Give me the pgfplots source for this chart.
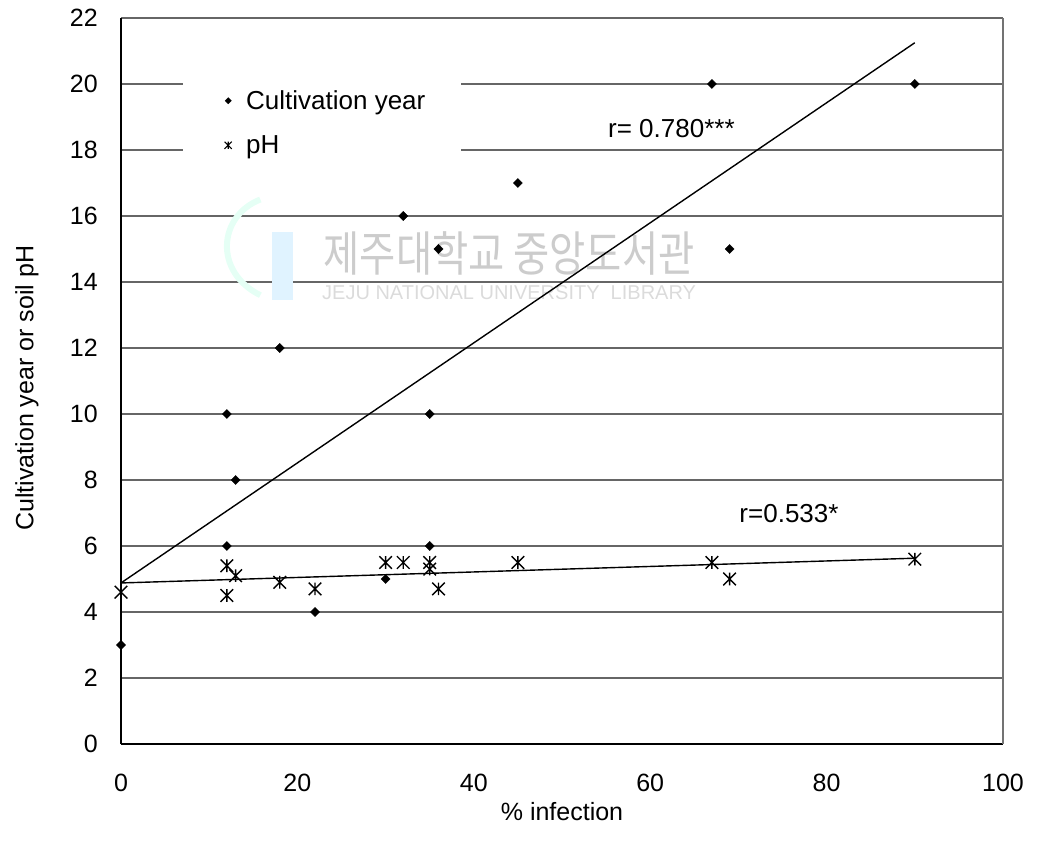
\documentclass[border=0pt]{standalone}
\usepackage{pgfplots}
\pgfplotsset{compat=1.18}
\usepackage{fontspec}
\setmainfont{Liberation Sans}
\newfontfamily\krfont{Noto Sans CJK KR}

\pgfdeclareplotmark{xstar}{%
  \pgfpathmoveto{\pgfqpoint{-\pgfplotmarksize}{-\pgfplotmarksize}}%
  \pgfpathlineto{\pgfqpoint{\pgfplotmarksize}{\pgfplotmarksize}}%
  \pgfpathmoveto{\pgfqpoint{-\pgfplotmarksize}{\pgfplotmarksize}}%
  \pgfpathlineto{\pgfqpoint{\pgfplotmarksize}{-\pgfplotmarksize}}%
  \pgfpathmoveto{\pgfqpoint{0pt}{-\pgfplotmarksize}}%
  \pgfpathlineto{\pgfqpoint{0pt}{\pgfplotmarksize}}%
  \pgfusepathqstroke}

\begin{document}
\begin{tikzpicture}
\path[use as bounding box] (0,0) rectangle (1037bp,850bp);
\begin{axis}[
  at={(121bp,106bp)}, anchor=south west,
  scale only axis, width=882bp, height=726bp,
  xmin=0, xmax=100, ymin=0, ymax=22,
  xtick={0,20,...,100}, ytick={0,2,...,22},
  axis x line*=bottom, axis y line*=left,
  axis line style={black, line width=1.5bp},
  ymajorgrids, grid style={black!60, line width=1.1bp},
  major tick length=0pt,
  clip=false,
  tick label style={font=\fontsize{25bp}{30bp}\selectfont},
  /pgf/number format/assume math mode=true,
  xticklabel style={anchor=north, inner sep=0pt, yshift=-30bp},
  yticklabel style={anchor=east, inner sep=0pt, xshift=-23bp},
  xlabel={\% infection},
  ylabel={Cultivation year or soil pH},
  label style={font=\fontsize{25bp}{30bp}\selectfont},
  xlabel style={at={(axis description cs:0.5,-0.106)}, anchor=base, inner sep=0pt},
  ylabel style={at={(axis description cs:-0.1066,0.49)}, anchor=center, inner sep=0pt},
  legend style={at={(axis description cs:0.0703,0.925)}, anchor=north west,
    draw=none, fill=white, inner xsep=36bp, inner ysep=18bp,
    row sep=24.6bp, column sep=9bp,
    font=\fontsize{26bp}{31bp}\selectfont, nodes={inner sep=0pt}},
  legend cell align=left,
  legend image code/.code={\path[draw=none,fill=none] (0bp,0bp) -- (18bp,0bp); \path[#1, only marks, draw=none] plot coordinates {(9bp,0bp)};},
  legend entries={Cultivation year, pH},
]
% watermark
\fill[blue!40!cyan!12] (axis cs:17.1,13.45) rectangle (axis cs:19.5,15.5);
\draw[green!40!cyan!10, line width=6bp] (axis cs:15.8,13.6) .. controls (axis cs:10.5,14.3) and (axis cs:11,16.0) .. (axis cs:15.8,16.5);
\node[font=\krfont\fontsize{48bp}{50bp}\selectfont, text=black!20, xscale=0.82, inner sep=0pt] at (axis cs:44.0,14.85) {제주대학교 중앙도서관};
\node[font=\fontsize{20bp}{22bp}\selectfont, text=black!14, inner sep=0pt] at (axis cs:44.0,13.67) {JEJU NATIONAL UNIVERSITY\ \ LIBRARY};

\draw[black!55, line width=1.1bp] (rel axis cs:1,0) -- (rel axis cs:1,1);

\addlegendimage{only marks, mark=square*, mark options={rotate=45}, mark size=2.2bp, black}
\addlegendimage{only marks, mark=xstar, mark size=3.6bp, line width=1.1bp, black}

% regression lines
\addplot[black, line width=1.4bp, no marks, forget plot] coordinates {(0,4.88) (90,21.25)};
\addplot[black, line width=1.4bp, no marks, forget plot] coordinates {(0,4.88) (90,5.63)};

% Cultivation year
\addplot[only marks, mark=square*, mark options={rotate=45, fill=black, draw=black}, mark size=3.2bp, forget plot] coordinates {
(0,3) (12,10) (13,8) (12,6) (18,12) (22,4) (30,5) (32,16) (35,10) (35,6) (36,15) (45,17) (67,20) (69,15) (90,20)
};
% pH
\addplot[only marks, mark=xstar, mark size=6.3bp, line width=1.4bp, black, forget plot] coordinates {
(0,4.6) (12,5.4) (12,4.5) (13,5.1) (18,4.9) (22,4.7) (30,5.5) (32,5.5) (35,5.5) (35,5.3) (36,4.7) (45,5.5) (67,5.5) (69,5.0) (90,5.6)
};

\node[anchor=base east, inner sep=0pt, font=\fontsize{26bp}{31bp}\selectfont] at (axis cs:69.6,18.38) {r= 0.780***};
\node[anchor=base west, inner sep=0pt, font=\fontsize{26bp}{31bp}\selectfont] at (axis cs:70.1,6.71) {r=0.533*};
\end{axis}
\end{tikzpicture}
\end{document}
